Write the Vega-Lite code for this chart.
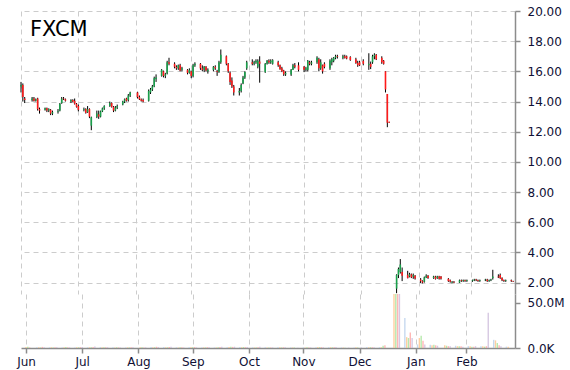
{
"$schema":"https://vega.github.io/schema/vega-lite/v6.json",
"padding":{"left":16,"top":5,"right":5,"bottom":5},
"background":"white",
"spacing":0,
"config":{
 "view":{"stroke":null},
 "axis":{"labelFont":"DejaVu Sans","labelFontSize":12,"labelColor":"#101035","domainColor":"#8c8c8c","domainWidth":1.5,"tickColor":"#8c8c8c","tickWidth":1.5,"tickSize":5,"gridColor":"#cccccc","gridDash":[5,4],"gridWidth":1,"title":null,"labelFlush":false}
},
"datasets":{"px":[
{"d":"2014-07-01","o":15.0,"h":15.3,"l":14.6,"c":15.1,"v":1100000},
{"d":"2014-07-02","o":15.1,"h":15.2,"l":14.0,"c":14.3,"v":1400000},
{"d":"2014-07-03","o":14.2,"h":14.3,"l":13.9,"c":14.1,"v":600000},
{"d":"2014-07-07","o":14.1,"h":14.3,"l":14.0,"c":14.2,"v":700000},
{"d":"2014-07-08","o":14.2,"h":14.3,"l":14.0,"c":14.05,"v":800000},
{"d":"2014-07-09","o":14.05,"h":14.2,"l":14.0,"c":14.15,"v":600000},
{"d":"2014-07-10","o":14.2,"h":14.25,"l":13.4,"c":13.5,"v":1200000},
{"d":"2014-07-11","o":13.5,"h":13.6,"l":13.2,"c":13.4,"v":900000},
{"d":"2014-07-14","o":13.45,"h":13.6,"l":13.4,"c":13.55,"v":700000},
{"d":"2014-07-15","o":13.55,"h":13.6,"l":13.3,"c":13.4,"v":800000},
{"d":"2014-07-16","o":13.4,"h":13.55,"l":13.3,"c":13.5,"v":600000},
{"d":"2014-07-17","o":13.45,"h":13.5,"l":13.1,"c":13.2,"v":900000},
{"d":"2014-07-18","o":13.2,"h":13.4,"l":13.1,"c":13.3,"v":700000},
{"d":"2014-07-21","o":13.3,"h":13.5,"l":13.2,"c":13.35,"v":600000},
{"d":"2014-07-22","o":13.4,"h":13.9,"l":13.35,"c":13.85,"v":900000},
{"d":"2014-07-23","o":13.9,"h":14.3,"l":13.85,"c":14.2,"v":1000000},
{"d":"2014-07-24","o":14.2,"h":14.3,"l":14.1,"c":14.15,"v":700000},
{"d":"2014-07-25","o":14.15,"h":14.2,"l":14.0,"c":14.05,"v":600000},
{"d":"2014-07-28","o":14.0,"h":14.15,"l":13.9,"c":14.1,"v":600000},
{"d":"2014-07-29","o":14.1,"h":14.15,"l":13.95,"c":14.0,"v":700000},
{"d":"2014-07-30","o":14.05,"h":14.2,"l":13.8,"c":13.85,"v":800000},
{"d":"2014-07-31","o":13.85,"h":13.9,"l":13.6,"c":13.65,"v":900000},
{"d":"2014-08-01","o":13.7,"h":13.8,"l":13.35,"c":13.45,"v":1000000},
{"d":"2014-08-04","o":13.45,"h":13.6,"l":13.35,"c":13.5,"v":700000},
{"d":"2014-08-05","o":13.5,"h":13.55,"l":13.2,"c":13.25,"v":800000},
{"d":"2014-08-06","o":13.3,"h":13.7,"l":13.25,"c":13.5,"v":900000},
{"d":"2014-08-07","o":13.5,"h":13.55,"l":12.9,"c":13.0,"v":1200000},
{"d":"2014-08-08","o":12.4,"h":13.0,"l":12.1,"c":12.95,"v":1600000},
{"d":"2014-08-11","o":13.0,"h":13.4,"l":12.9,"c":13.2,"v":900000},
{"d":"2014-08-12","o":13.15,"h":13.4,"l":12.85,"c":13.0,"v":800000},
{"d":"2014-08-13","o":13.0,"h":13.4,"l":12.95,"c":13.35,"v":700000},
{"d":"2014-08-14","o":13.35,"h":13.6,"l":13.3,"c":13.55,"v":700000},
{"d":"2014-08-15","o":13.55,"h":13.75,"l":13.45,"c":13.7,"v":800000},
{"d":"2014-08-18","o":13.7,"h":14.0,"l":13.65,"c":13.9,"v":700000},
{"d":"2014-08-19","o":13.9,"h":13.95,"l":13.6,"c":13.65,"v":600000},
{"d":"2014-08-20","o":13.65,"h":13.7,"l":13.3,"c":13.4,"v":800000},
{"d":"2014-08-21","o":13.4,"h":13.7,"l":13.35,"c":13.6,"v":600000},
{"d":"2014-08-22","o":13.6,"h":13.8,"l":13.5,"c":13.7,"v":500000},
{"d":"2014-08-25","o":13.8,"h":14.05,"l":13.75,"c":14.0,"v":600000},
{"d":"2014-08-26","o":14.0,"h":14.2,"l":13.9,"c":14.15,"v":700000},
{"d":"2014-08-27","o":14.2,"h":14.25,"l":14.0,"c":14.05,"v":600000},
{"d":"2014-08-28","o":14.1,"h":14.5,"l":14.0,"c":14.4,"v":800000},
{"d":"2014-08-29","o":14.4,"h":14.65,"l":14.3,"c":14.6,"v":700000},
{"d":"2014-09-02","o":14.6,"h":14.65,"l":14.2,"c":14.3,"v":900000},
{"d":"2014-09-03","o":14.3,"h":14.4,"l":14.1,"c":14.15,"v":700000},
{"d":"2014-09-04","o":14.15,"h":14.2,"l":14.0,"c":14.05,"v":600000},
{"d":"2014-09-05","o":14.1,"h":14.2,"l":13.95,"c":14.0,"v":700000},
{"d":"2014-09-08","o":14.05,"h":14.8,"l":14.0,"c":14.7,"v":1100000},
{"d":"2014-09-09","o":14.6,"h":14.9,"l":14.5,"c":14.8,"v":900000},
{"d":"2014-09-10","o":14.8,"h":15.1,"l":14.7,"c":15.0,"v":800000},
{"d":"2014-09-11","o":15.0,"h":15.65,"l":14.95,"c":15.55,"v":1300000},
{"d":"2014-09-12","o":15.5,"h":15.8,"l":15.3,"c":15.6,"v":1000000},
{"d":"2014-09-15","o":15.7,"h":16.15,"l":15.65,"c":16.1,"v":1100000},
{"d":"2014-09-16","o":16.0,"h":16.05,"l":15.6,"c":15.7,"v":800000},
{"d":"2014-09-17","o":15.7,"h":15.9,"l":15.55,"c":15.8,"v":700000},
{"d":"2014-09-18","o":15.85,"h":16.7,"l":15.8,"c":16.6,"v":1200000},
{"d":"2014-09-19","o":16.6,"h":16.9,"l":16.4,"c":16.5,"v":1400000},
{"d":"2014-09-22","o":16.5,"h":16.6,"l":16.2,"c":16.3,"v":800000},
{"d":"2014-09-23","o":16.3,"h":16.4,"l":16.1,"c":16.2,"v":600000},
{"d":"2014-09-24","o":16.2,"h":16.45,"l":16.1,"c":16.4,"v":700000},
{"d":"2014-09-25","o":16.4,"h":16.5,"l":16.0,"c":16.05,"v":700000},
{"d":"2014-09-26","o":16.1,"h":16.3,"l":16.0,"c":16.2,"v":600000},
{"d":"2014-09-29","o":16.1,"h":16.15,"l":15.8,"c":15.9,"v":700000},
{"d":"2014-09-30","o":15.9,"h":16.2,"l":15.85,"c":16.1,"v":800000},
{"d":"2014-10-01","o":16.0,"h":16.05,"l":15.55,"c":15.7,"v":800000},
{"d":"2014-10-02","o":15.7,"h":16.5,"l":15.6,"c":16.4,"v":1000000},
{"d":"2014-10-03","o":16.4,"h":16.6,"l":16.3,"c":16.5,"v":700000},
{"d":"2014-10-06","o":16.5,"h":16.55,"l":16.1,"c":16.2,"v":600000},
{"d":"2014-10-07","o":16.2,"h":16.4,"l":16.0,"c":16.1,"v":700000},
{"d":"2014-10-08","o":16.1,"h":16.35,"l":15.95,"c":16.3,"v":600000},
{"d":"2014-10-09","o":16.3,"h":16.35,"l":16.0,"c":16.05,"v":700000},
{"d":"2014-10-10","o":16.0,"h":16.2,"l":15.85,"c":16.1,"v":800000},
{"d":"2014-10-13","o":16.1,"h":16.35,"l":16.0,"c":16.3,"v":600000},
{"d":"2014-10-14","o":16.3,"h":16.4,"l":16.1,"c":16.2,"v":600000},
{"d":"2014-10-15","o":16.0,"h":16.1,"l":15.7,"c":15.95,"v":900000},
{"d":"2014-10-16","o":15.95,"h":16.7,"l":15.9,"c":16.6,"v":1100000},
{"d":"2014-10-17","o":16.6,"h":17.45,"l":16.5,"c":17.1,"v":1500000},
{"d":"2014-10-20","o":17.0,"h":17.05,"l":16.4,"c":16.5,"v":900000},
{"d":"2014-10-21","o":16.5,"h":16.55,"l":15.9,"c":16.0,"v":1000000},
{"d":"2014-10-22","o":15.9,"h":16.0,"l":15.1,"c":15.3,"v":1300000},
{"d":"2014-10-23","o":15.4,"h":15.6,"l":14.9,"c":15.0,"v":1200000},
{"d":"2014-10-24","o":15.0,"h":15.1,"l":14.4,"c":14.6,"v":1400000},
{"d":"2014-10-27","o":14.6,"h":14.9,"l":14.4,"c":14.7,"v":1000000},
{"d":"2014-10-28","o":14.7,"h":15.2,"l":14.6,"c":15.1,"v":900000},
{"d":"2014-10-29","o":15.2,"h":15.7,"l":15.15,"c":15.6,"v":1000000},
{"d":"2014-10-30","o":15.6,"h":16.0,"l":15.5,"c":15.95,"v":900000},
{"d":"2014-10-31","o":16.2,"h":16.7,"l":16.1,"c":16.6,"v":1100000},
{"d":"2014-11-03","o":16.6,"h":16.8,"l":16.4,"c":16.5,"v":700000},
{"d":"2014-11-04","o":16.5,"h":16.7,"l":16.4,"c":16.6,"v":600000},
{"d":"2014-11-05","o":16.6,"h":16.8,"l":16.5,"c":16.7,"v":600000},
{"d":"2014-11-06","o":16.3,"h":16.8,"l":16.2,"c":16.7,"v":900000},
{"d":"2014-11-07","o":16.65,"h":17.0,"l":15.25,"c":16.5,"v":1400000},
{"d":"2014-11-10","o":15.95,"h":16.55,"l":15.9,"c":16.5,"v":900000},
{"d":"2014-11-11","o":16.5,"h":16.75,"l":16.45,"c":16.7,"v":600000},
{"d":"2014-11-12","o":16.7,"h":16.8,"l":16.5,"c":16.6,"v":600000},
{"d":"2014-11-13","o":16.6,"h":16.8,"l":16.5,"c":16.7,"v":500000},
{"d":"2014-11-14","o":16.5,"h":16.8,"l":16.45,"c":16.75,"v":600000},
{"d":"2014-11-17","o":16.6,"h":16.7,"l":16.3,"c":16.4,"v":700000},
{"d":"2014-11-18","o":16.4,"h":16.45,"l":16.1,"c":16.15,"v":700000},
{"d":"2014-11-19","o":16.2,"h":16.3,"l":15.95,"c":16.0,"v":600000},
{"d":"2014-11-20","o":16.05,"h":16.1,"l":15.7,"c":15.8,"v":800000},
{"d":"2014-11-21","o":15.8,"h":16.0,"l":15.7,"c":15.9,"v":700000},
{"d":"2014-11-24","o":15.8,"h":16.15,"l":15.7,"c":16.1,"v":600000},
{"d":"2014-11-25","o":16.1,"h":16.5,"l":16.1,"c":16.4,"v":600000},
{"d":"2014-11-26","o":16.4,"h":16.55,"l":16.2,"c":16.3,"v":500000},
{"d":"2014-11-28","o":16.4,"h":16.6,"l":16.0,"c":16.1,"v":400000},
{"d":"2014-12-01","o":16.3,"h":16.35,"l":15.95,"c":16.1,"v":700000},
{"d":"2014-12-02","o":16.1,"h":16.3,"l":16.0,"c":16.2,"v":600000},
{"d":"2014-12-03","o":16.1,"h":16.75,"l":16.0,"c":16.7,"v":900000},
{"d":"2014-12-04","o":16.6,"h":16.7,"l":16.4,"c":16.5,"v":600000},
{"d":"2014-12-05","o":16.5,"h":16.7,"l":16.4,"c":16.6,"v":600000},
{"d":"2014-12-08","o":16.6,"h":17.0,"l":16.5,"c":16.9,"v":800000},
{"d":"2014-12-09","o":16.8,"h":16.9,"l":16.0,"c":16.2,"v":1000000},
{"d":"2014-12-10","o":16.2,"h":16.8,"l":16.1,"c":16.6,"v":900000},
{"d":"2014-12-11","o":16.4,"h":16.45,"l":15.85,"c":16.0,"v":900000},
{"d":"2014-12-12","o":16.5,"h":16.6,"l":16.2,"c":16.3,"v":700000},
{"d":"2014-12-15","o":16.2,"h":16.8,"l":16.1,"c":16.7,"v":800000},
{"d":"2014-12-16","o":16.6,"h":16.9,"l":16.4,"c":16.8,"v":800000},
{"d":"2014-12-17","o":16.7,"h":16.95,"l":16.6,"c":16.9,"v":700000},
{"d":"2014-12-18","o":16.9,"h":17.1,"l":16.8,"c":17.0,"v":700000},
{"d":"2014-12-19","o":17.0,"h":17.1,"l":16.85,"c":16.95,"v":1200000},
{"d":"2014-12-22","o":16.9,"h":17.1,"l":16.8,"c":17.0,"v":600000},
{"d":"2014-12-23","o":17.0,"h":17.1,"l":16.85,"c":16.9,"v":500000},
{"d":"2014-12-24","o":17.0,"h":17.05,"l":16.8,"c":16.85,"v":300000},
{"d":"2014-12-26","o":16.95,"h":17.0,"l":16.7,"c":16.75,"v":400000},
{"d":"2014-12-29","o":16.8,"h":16.9,"l":16.5,"c":16.55,"v":600000},
{"d":"2014-12-30","o":16.55,"h":16.7,"l":16.3,"c":16.4,"v":700000},
{"d":"2014-12-31","o":16.6,"h":16.7,"l":16.35,"c":16.4,"v":600000},
{"d":"2015-01-02","o":16.7,"h":16.8,"l":16.4,"c":16.5,"v":600000},
{"d":"2015-01-05","o":16.4,"h":17.2,"l":16.1,"c":16.5,"v":1000000},
{"d":"2015-01-06","o":16.5,"h":16.65,"l":16.15,"c":16.3,"v":800000},
{"d":"2015-01-07","o":16.6,"h":17.1,"l":16.5,"c":17.0,"v":900000},
{"d":"2015-01-08","o":17.0,"h":17.2,"l":16.8,"c":17.1,"v":800000},
{"d":"2015-01-09","o":17.1,"h":17.15,"l":16.75,"c":16.8,"v":700000},
{"d":"2015-01-12","o":16.9,"h":17.0,"l":16.5,"c":16.6,"v":800000},
{"d":"2015-01-13","o":16.7,"h":16.75,"l":16.45,"c":16.5,"v":900000},
{"d":"2015-01-14","o":16.0,"h":16.0,"l":14.6,"c":14.8,"v":2500000},
{"d":"2015-01-15","o":14.5,"h":14.5,"l":12.3,"c":12.6,"v":3000000},
{"d":"2015-01-16","o":12.66,"h":12.66,"l":12.6,"c":12.6,"v":0},
{"d":"2015-01-20","o":1.6,"h":2.55,"l":1.3,"c":2.5,"v":90000000},
{"d":"2015-01-21","o":2.5,"h":3.0,"l":2.3,"c":2.9,"v":75000000},
{"d":"2015-01-22","o":2.7,"h":3.56,"l":2.6,"c":3.2,"v":68000000},
{"d":"2015-01-23","o":2.7,"h":3.0,"l":2.1,"c":2.45,"v":60000000},
{"d":"2015-01-26","o":2.52,"h":2.78,"l":2.28,"c":2.3,"v":33000000},
{"d":"2015-01-27","o":2.4,"h":2.65,"l":2.35,"c":2.55,"v":12000000},
{"d":"2015-01-28","o":2.55,"h":2.6,"l":2.3,"c":2.35,"v":11000000},
{"d":"2015-01-29","o":2.4,"h":2.6,"l":2.25,"c":2.5,"v":17000000},
{"d":"2015-01-30","o":2.45,"h":2.5,"l":2.2,"c":2.28,"v":11000000},
{"d":"2015-02-02","o":2.2,"h":2.3,"l":1.97,"c":2.1,"v":4000000},
{"d":"2015-02-03","o":2.1,"h":2.15,"l":1.95,"c":2.0,"v":11000000},
{"d":"2015-02-04","o":2.05,"h":2.4,"l":2.0,"c":2.35,"v":13500000},
{"d":"2015-02-05","o":2.35,"h":2.55,"l":2.3,"c":2.45,"v":8000000},
{"d":"2015-02-06","o":2.45,"h":2.5,"l":2.25,"c":2.3,"v":4000000},
{"d":"2015-02-09","o":2.3,"h":2.45,"l":2.25,"c":2.4,"v":3500000},
{"d":"2015-02-10","o":2.4,"h":2.45,"l":2.2,"c":2.25,"v":3000000},
{"d":"2015-02-11","o":2.3,"h":2.45,"l":2.25,"c":2.4,"v":3500000},
{"d":"2015-02-12","o":2.4,"h":2.45,"l":2.2,"c":2.25,"v":3000000},
{"d":"2015-02-13","o":2.4,"h":2.43,"l":2.2,"c":2.25,"v":2500000},
{"d":"2015-02-17","o":2.25,"h":2.3,"l":2.05,"c":2.1,"v":3000000},
{"d":"2015-02-18","o":2.15,"h":2.2,"l":2.0,"c":2.05,"v":2500000},
{"d":"2015-02-19","o":2.0,"h":2.1,"l":1.95,"c":2.05,"v":2000000},
{"d":"2015-02-20","o":2.05,"h":2.1,"l":1.95,"c":2.0,"v":2000000},
{"d":"2015-02-23","o":2.0,"h":2.2,"l":1.98,"c":2.15,"v":2500000},
{"d":"2015-02-24","o":2.15,"h":2.2,"l":2.05,"c":2.1,"v":2000000},
{"d":"2015-02-25","o":2.1,"h":2.2,"l":2.05,"c":2.15,"v":2000000},
{"d":"2015-02-26","o":2.15,"h":2.2,"l":2.05,"c":2.1,"v":2000000},
{"d":"2015-02-27","o":2.1,"h":2.2,"l":2.05,"c":2.15,"v":1500000},
{"d":"2015-03-02","o":2.1,"h":2.2,"l":2.05,"c":2.15,"v":2000000},
{"d":"2015-03-03","o":2.15,"h":2.25,"l":2.1,"c":2.2,"v":2000000},
{"d":"2015-03-04","o":2.2,"h":2.25,"l":2.1,"c":2.15,"v":1500000},
{"d":"2015-03-05","o":2.15,"h":2.2,"l":2.05,"c":2.1,"v":1500000},
{"d":"2015-03-06","o":2.1,"h":2.2,"l":2.05,"c":2.15,"v":2000000},
{"d":"2015-03-09","o":2.15,"h":2.25,"l":2.1,"c":2.2,"v":2000000},
{"d":"2015-03-10","o":2.2,"h":2.25,"l":2.05,"c":2.1,"v":2000000},
{"d":"2015-03-11","o":2.1,"h":2.2,"l":2.05,"c":2.15,"v":1500000},
{"d":"2015-03-12","o":2.15,"h":2.25,"l":2.1,"c":2.2,"v":2000000},
{"d":"2015-03-13","o":2.3,"h":2.85,"l":2.2,"c":2.4,"v":39000000},
{"d":"2015-03-16","o":2.4,"h":2.55,"l":2.3,"c":2.35,"v":9000000},
{"d":"2015-03-17","o":2.5,"h":2.6,"l":2.25,"c":2.3,"v":8400000},
{"d":"2015-03-18","o":2.3,"h":2.35,"l":2.1,"c":2.15,"v":5500000},
{"d":"2015-03-19","o":2.15,"h":2.2,"l":2.05,"c":2.1,"v":3000000},
{"d":"2015-03-20","o":2.1,"h":2.2,"l":2.05,"c":2.15,"v":2000000},
{"d":"2015-03-23","o":2.15,"h":2.2,"l":2.05,"c":2.1,"v":1500000},
{"d":"2015-03-24","o":2.1,"h":2.12,"l":2.05,"c":2.07,"v":1500000}
]},
"vconcat":[
 {
  "width":494,"height":283,
  "title":{"text":"FXCM","anchor":"start","frame":"group","fontSize":21,"font":"DejaVu Sans","fontWeight":"normal","color":"#000000","baseline":"alphabetic","offset":0,"dx":9,"dy":52},
  "data":{"name":"px"},
  "encoding":{
   "x":{"field":"d","type":"temporal","scale":{"type":"utc","domain":[{"year":2014,"month":7,"date":1,"utc":true},{"year":2015,"month":3,"date":25,"utc":true}]},
        "axis":{"labels":false,"ticks":false,"domain":false,"grid":true,"tickCount":{"interval":"month","step":1}}}
  },
  "layer":[
   {"mark":{"type":"rule","color":"#000000","strokeWidth":1},
    "encoding":{"y":{"field":"l","type":"quantitative","scale":{"domain":[1.245,20],"nice":false,"zero":false},
       "axis":{"orient":"right","values":[2,4,6,8,10,12,14,16,18,20],"tickCount":20,"format":".2f","grid":true,"labelPadding":7,"labelOverlap":false}},
     "y2":{"field":"h"}}},
   {"mark":{"type":"rule","strokeWidth":1.6},
    "encoding":{"y":{"field":"o","type":"quantitative"},"y2":{"field":"c"},
     "color":{"condition":{"test":"datum.c >= datum.o","value":"#19a04b"},"value":"#ff1a1a"}}}
  ]
 },
 {
  "width":494,"height":54,
  "data":{"name":"px"},
  "mark":{"type":"bar","width":1.4,"clip":true,"opacity":0.7},
  "encoding":{
   "x":{"field":"d","type":"temporal","scale":{"type":"utc","domain":[{"year":2014,"month":7,"date":1,"utc":true},{"year":2015,"month":3,"date":25,"utc":true}]},
        "axis":{"grid":true,"tickCount":{"interval":"month","step":1},"labelPadding":3,"labelOverlap":false,
                "labelExpr":"utcFormat(utc(utcyear(datum.value), utcmonth(datum.value) - 1, 1), '%b')"}},
   "y":{"field":"v","type":"quantitative","scale":{"domain":[0,59600000],"nice":false},
        "axis":{"orient":"right","values":[0,50000000],"tickCount":5,"grid":false,"labelPadding":7,"labelOverlap":false,
                "labelExpr":"datum.value == 0 ? '0.0K' : format(datum.value / 1000000, '.1f') + 'M'"}},
   "color":{"timeUnit":"utcday","field":"d","type":"ordinal","legend":null,
            "scale":{"range":["#aec7e8","#ffbb78","#98df8a","#ff9896","#c5b0d5"]}}
  }
 }
]
}
